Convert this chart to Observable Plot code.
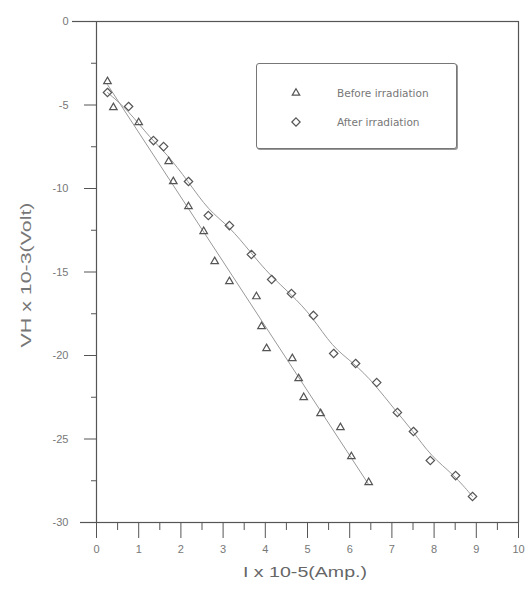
<!DOCTYPE html>
<html>
<head>
<meta charset="utf-8">
<script src="https://cdn.jsdelivr.net/npm/d3@7"></script>
<script src="https://cdn.jsdelivr.net/npm/@observablehq/plot@0.6"></script>
<style>
  html, body { margin: 0; padding: 0; background: #fff; }
  #wrap { position: relative; width: 529px; height: 593px; font-family: "Liberation Sans", Arial, sans-serif; }
  #legend { position: absolute; left: 256px; top: 63px; width: 199px; height: 84px;
    border: 1px solid #777; border-radius: 3px; box-shadow: 1px 1px 0 #999; background: #fff;
    font-family: "DejaVu Sans", sans-serif; font-size: 10.5px; color: #777; }
  .row { position: absolute; left: 32px; display: flex; align-items: center; }
  .row svg { margin-right: 34px; }
</style>
</head>
<body>
<div id="wrap">
  <div id="chart"></div>
  <div id="legend">
    <div class="row" style="top:22px"><svg width="14" height="14"><path id="symT" fill="none" stroke="#555" stroke-width="1.2"></path></svg><span>Before irradiation</span></div>
    <div class="row" style="top:51px"><svg width="14" height="14"><path id="symD" fill="none" stroke="#555" stroke-width="1.2"></path></svg><span>After irradiation</span></div>
  </div>
</div>
<script>
const seriesNames = ["Before irradiation", "After irradiation"];
const beforeX = [0.26, 0.40, 1.00, 1.71, 1.82, 2.18, 2.54, 2.80, 3.15, 3.79, 3.91, 4.03, 4.64, 4.79, 4.91, 5.31, 5.78, 6.04, 6.45];
const beforeY = [-3.59, -5.15, -6.05, -8.38, -9.58, -11.08, -12.57, -14.37, -15.57, -16.47, -18.26, -19.58, -20.18, -21.38, -22.51, -23.47, -24.31, -26.05, -27.60];
const afterX = [0.26, 0.76, 1.35, 1.59, 2.18, 2.65, 3.15, 3.67, 4.15, 4.62, 5.14, 5.62, 6.14, 6.64, 7.13, 7.51, 7.91, 8.51, 8.91];
const afterY = [-4.25, -5.09, -7.13, -7.49, -9.58, -11.62, -12.22, -13.95, -15.45, -16.29, -17.60, -19.88, -20.48, -21.62, -23.41, -24.55, -26.29, -27.19, -28.44];
const xTicks = [0, 1, 2, 3, 4, 5, 6, 7, 8, 9, 10];
const xMinor = [0.5, 1.5, 2.5, 3.5, 4.5, 5.5, 6.5, 7.5, 8.5, 9.5];
const yTicks = [0, -5, -10, -15, -20, -25, -30];
const yMinor = [-2.5, -7.5, -12.5, -17.5, -22.5, -27.5];
const xLabel = "I x 10-5(Amp.)";
const yLabel = "VH x 10-3(Volt)";

const before = beforeX.map((x, i) => ({x, y: beforeY[i], s: seriesNames[0]}));
const after = afterX.map((x, i) => ({x, y: afterY[i], s: seriesNames[1]}));

const axisColor = "#555";
const chart = Plot.plot({
  width: 529,
  height: 593,
  marginLeft: 96,
  marginRight: 11,
  marginTop: 21,
  marginBottom: 71,
  style: {fontFamily: "Liberation Sans, Arial, sans-serif", color: "#666", background: "#fff"},
  x: {domain: [0, 10]},
  y: {domain: [-30, 0]},
  marks: [
    Plot.frame({stroke: axisColor, strokeWidth: 1.2}),
    Plot.axisX({ticks: xTicks, tickSize: 16, tickPadding: 7, tickFormat: d => String(d), fontSize: 11, stroke: axisColor, fill: "#777", label: null}),
    Plot.axisX({ticks: xMinor, tickSize: 8, tickFormat: null, text: null, stroke: axisColor, label: null}),
    Plot.axisY({ticks: yTicks, tickSize: 12, tickPadding: 16, tickFormat: d => String(d), fontSize: 11, stroke: axisColor, fill: "#777", label: null}),
    Plot.axisY({ticks: [0], tickSize: 24, text: null, stroke: axisColor, strokeWidth: 1.2, label: null}),
    Plot.axisY({ticks: [-30], tickSize: 16, text: null, stroke: axisColor, strokeWidth: 1.2, label: null}),
    Plot.axisY({ticks: yMinor, tickSize: 5, tickFormat: null, text: null, stroke: axisColor, label: null}),
    Plot.linearRegressionY(before, {x: "x", y: "y", stroke: "#999", strokeWidth: 1, ci: 0}),
    Plot.line(after, {x: "x", y: "y", curve: "bundle", tension: 0.55, stroke: "#999", strokeWidth: 1}),
    Plot.dot(before, {x: "x", y: "y", symbol: "triangle2", r: 3.6, stroke: "#555", strokeWidth: 1.2, fill: "none"}),
    Plot.dot(after, {x: "x", y: "y", symbol: "diamond2", r: 3.8, stroke: "#555", strokeWidth: 1.2, fill: "none"})
  ]
});
document.getElementById("chart").appendChild(chart);

// axis titles
const svg = d3.select(chart);
svg.append("text").attr("x", 305).attr("y", 577).attr("text-anchor", "middle")
  .attr("font-size", 14).attr("fill", "#666").attr("font-family", "Liberation Sans, Arial, sans-serif")
  .attr("textLength", 124).attr("lengthAdjust", "spacingAndGlyphs").text(xLabel);
svg.append("text").attr("transform", "translate(31,275) rotate(-90)").attr("text-anchor", "middle")
  .attr("font-size", 15.5).attr("fill", "#777").attr("font-family", "Liberation Sans, Arial, sans-serif")
  .attr("textLength", 145).attr("lengthAdjust", "spacingAndGlyphs").text(yLabel);

// legend symbols
document.getElementById("symT").setAttribute("d", d3.symbol(d3.symbolTriangle2, 40)());
document.getElementById("symT").setAttribute("transform", "translate(7,7)");
document.getElementById("symD").setAttribute("d", d3.symbol(d3.symbolDiamond2, 44)());
document.getElementById("symD").setAttribute("transform", "translate(7,7)");
</script>
</body>
</html>
